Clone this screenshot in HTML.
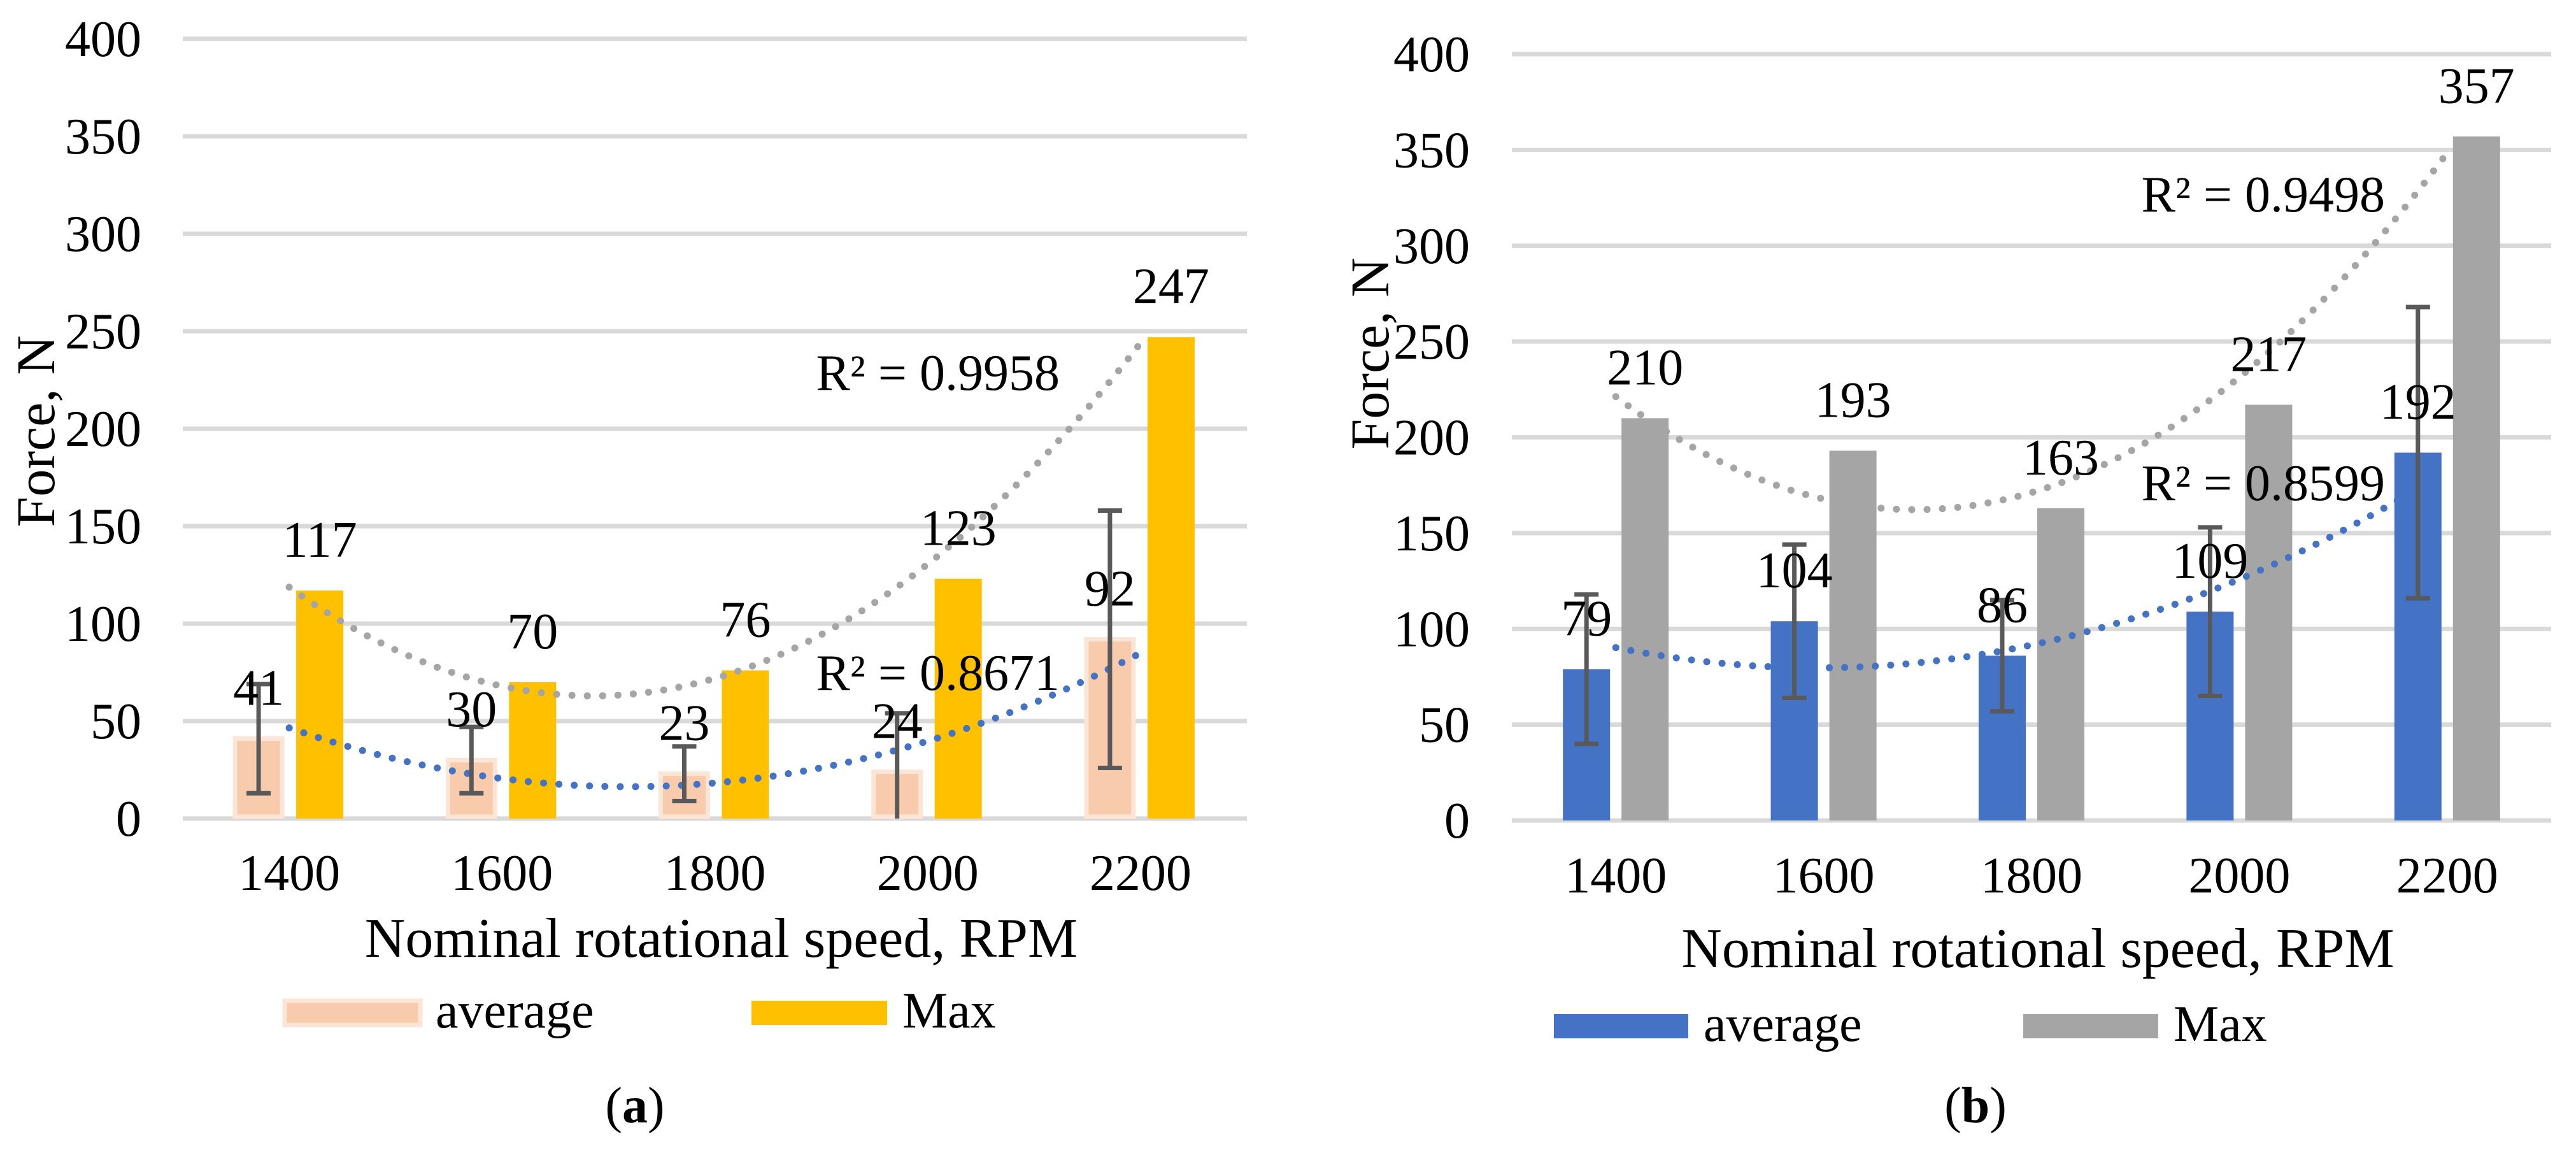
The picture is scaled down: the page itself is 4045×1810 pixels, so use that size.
<!DOCTYPE html>
<html><head><meta charset="utf-8"><style>
html,body{margin:0;padding:0;background:#fff;}
svg{display:block;}
svg text{font-family:"Liberation Serif","Times New Roman",serif;}
</style></head><body>
<svg id="fig" width="4045" height="1810" viewBox="0 0 4045 1810" xmlns="http://www.w3.org/2000/svg" font-family="Liberation Serif, serif"></svg>
<script>
const categories = ["1400","1600","1800","2000","2200"];
const yTicks = [0,50,100,150,200,250,300,350,400];
const avgA = [41,30,23,24,92];
const maxA = [117,70,76,123,247];
const errA = [28,17,14,30,66];
const avgB = [79,104,86,109,192];
const maxB = [210,193,163,217,357];
const errB = [39,40,29,44,76];
const r2A = ["R² = 0.9958","R² = 0.8671"];
const r2B = ["R² = 0.9498","R² = 0.8599"];

const NS="http://www.w3.org/2000/svg";
const svg=document.getElementById('fig');
function mk(tag,attrs,parent){const e=document.createElementNS(NS,tag);for(const k in attrs)e.setAttribute(k,attrs[k]);if(tag==='text')e.setAttribute('font-family','Liberation Serif, serif');(parent||svg).appendChild(e);return e;}
function fit(vals){let n=vals.length,S=[0,0,0,0,0],T=[0,0,0];
 for(let i=0;i<n;i++){const x=i+1,y=vals[i];for(let p=0;p<5;p++)S[p]+=Math.pow(x,p);for(let p=0;p<3;p++)T[p]+=y*Math.pow(x,p);}
 const A=[[S[0],S[1],S[2],T[0]],[S[1],S[2],S[3],T[1]],[S[2],S[3],S[4],T[2]]];
 for(let i=0;i<3;i++){for(let j=i+1;j<3;j++){const f=A[j][i]/A[i][i];for(let k=i;k<4;k++)A[j][k]-=f*A[i][k];}}
 const c=[0,0,0];for(let i=2;i>=0;i--){let s=A[i][3];for(let k=i+1;k<3;k++)s-=A[i][k]*c[k];c[i]=s/A[i][i];}
 return x=>c[0]+c[1]*x+c[2]*x*x;}

function chart(cfg){
 const g=mk('g',{});
 
 
 const y=v=>cfg.y0-(v/400)*(cfg.y0-cfg.y400);
 const bw=(cfg.x1-cfg.x0)/categories.length;
 const cx=i=>cfg.x0+bw*(i+0.5);
 yTicks.forEach(t=>{
  const l=mk('line',{x1:cfg.x0,x2:cfg.x1,y1:y(t),y2:y(t),stroke:'#D9D9D9','stroke-width':7},g);
  
  
  const tx=mk('text',{x:cfg.tickX,y:y(t)+27,'font-size':80,'text-anchor':'end'},g);
  tx.textContent=t;
  
  
 });
 categories.forEach((c,i)=>{
  const tx=mk('text',{x:cx(i),y:cfg.xTickY,'font-size':80,'text-anchor':'middle'},g);
  tx.textContent=c;
  
  
  const ax=cx(i)-cfg.off;
  const ab=mk('rect',{x:ax-cfg.bw/2,y:y(cfg.avg[i]),width:cfg.bw,height:y(0)-y(cfg.avg[i]),fill:cfg.avgColor},g);
  if(cfg.avgStroke){ab.setAttribute('stroke',cfg.avgStroke);ab.setAttribute('stroke-width',7);ab.setAttribute('height',y(0)-y(cfg.avg[i])-3);}
  
  
  const mx=cx(i)+cfg.off;
  const mb=mk('rect',{x:mx-cfg.bw/2,y:y(cfg.max[i]),width:cfg.bw,height:y(0)-y(cfg.max[i]),fill:cfg.maxColor},g);
  
  
 });
 [[cfg.max,'#A5A5A5','trendline-max'],[cfg.avg,'#4472C4','trendline-average']].forEach(([vals,col,nm])=>{
  const f=fit(vals);let d='';
  for(let k=0;k<=100;k++){const xv=1+4*k/100;const px=cfg.x0+bw*(xv-0.5);d+=(k?'L':'M')+px.toFixed(1)+' '+y(f(xv)).toFixed(1);}
  const p=mk('path',{d:d,fill:'none',stroke:col,'stroke-width':11,'stroke-linecap':'round','stroke-dasharray':'0.1 24'},g);
  
  
 });
 categories.forEach((c,i)=>{
  const ax=cx(i)-cfg.off;
  const top=cfg.avg[i]+cfg.err[i],bot=Math.max(0,cfg.avg[i]-cfg.err[i]);
  const eg=mk('g',{stroke:'#595959','stroke-width':7},g);
  
  
  mk('line',{x1:ax,x2:ax,y1:y(top),y2:y(bot)},eg);
  mk('line',{x1:ax-19,x2:ax+19,y1:y(top),y2:y(top)},eg);
  if(cfg.avg[i]-cfg.err[i]>0)mk('line',{x1:ax-19,x2:ax+19,y1:y(bot),y2:y(bot)},eg);
  const la=mk('text',{x:ax,y:y(cfg.avg[i])-53,'font-size':80,'text-anchor':'middle'},g);
  la.textContent=cfg.avg[i];
  
  
  const mx=cx(i)+cfg.off;
  const lm=mk('text',{x:mx,y:y(cfg.max[i])-53,'font-size':80,'text-anchor':'middle'},g);
  lm.textContent=cfg.max[i];
  
  
 });
 const r1=mk('text',{x:cfg.r2x,y:cfg.r2y[0],'font-size':80,'text-anchor':'end'},g);
 r1.textContent=cfg.r2[0];
 
 
 const r2=mk('text',{x:cfg.r2x,y:cfg.r2y[1],'font-size':80,'text-anchor':'end'},g);
 r2.textContent=cfg.r2[1];
 
 
 const yt=mk('text',{x:0,y:0,'font-size':86,'text-anchor':'middle',transform:`translate(${cfg.ytX},${cfg.ytY}) rotate(-90)`},g);
 yt.textContent='Force, N';
 
 
 const xt=mk('text',{x:(cfg.x0+cfg.x1)/2+10,y:cfg.xtY,'font-size':88,'text-anchor':'middle'},g);
 xt.textContent='Nominal rotational speed, RPM';
 
 
 const l1=mk('g',{},g);
 
 
 const s1=mk('rect',{x:cfg.leg[0],y:cfg.legY,width:cfg.leg[1]-cfg.leg[0],height:38,fill:cfg.avgColor},l1);
 if(cfg.avgStroke){s1.setAttribute('stroke',cfg.avgStroke);s1.setAttribute('stroke-width',7);}
 const t1=mk('text',{x:cfg.leg[1]+24,y:cfg.legY+42,'font-size':80},l1);t1.textContent='average';
 const l2=mk('g',{},g);
 
 
 mk('rect',{x:cfg.leg[2],y:cfg.legY,width:cfg.leg[3]-cfg.leg[2],height:38,fill:cfg.maxColor},l2);
 const t2=mk('text',{x:cfg.leg[3]+24,y:cfg.legY+42,'font-size':80},l2);t2.textContent='Max';
 const cap=mk('text',{x:cfg.capX,y:1762,'font-size':80,'text-anchor':'middle'},g);
 cap.innerHTML='(<tspan font-weight="bold">'+cfg.cap+'</tspan>)';
 
 
}
chart({name:'chart-a',x0:287,x1:1958,y0:1285,y400:61,tickX:222,xTickY:1397,bw:74,off:48,
 avg:avgA,max:maxA,err:errA,avgColor:'#F8CBAD',avgStroke:'#FBE5D6',maxColor:'#FFC000',
 r2:r2A,r2x:1664,r2y:[612,1083],ytX:85,ytY:677,xtY:1502,leg:[447,660,1180,1393],legY:1571,capX:997,cap:'a'});
chart({name:'chart-b',x0:2374,x1:4006,y0:1288,y400:85,tickX:2308,xTickY:1401,bw:74,off:46,
 avg:avgB,max:maxB,err:errB,avgColor:'#4472C4',avgStroke:null,maxColor:'#A5A5A5',
 r2:r2B,r2x:3745,r2y:[332,785],ytX:2180,ytY:555,xtY:1518,leg:[2440,2651,3177,3389],legY:1592,capX:3102,cap:'b'});
</script>
</body></html>
